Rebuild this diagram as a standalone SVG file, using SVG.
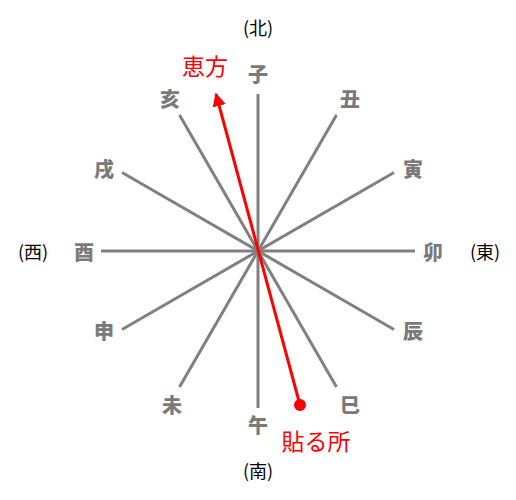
<svg xmlns="http://www.w3.org/2000/svg" width="516" height="500" viewBox="0 0 516 500">
<style>
.spoke{stroke:#808080;stroke-width:3;fill:none}
.zod{font-family:"Noto Sans CJK JP","Noto Sans CJK SC",sans-serif;font-weight:900;font-size:20px;fill:#7a7a7a;text-anchor:middle;dominant-baseline:central}
.dir{font-family:"Noto Sans CJK JP",sans-serif;font-size:18px;fill:#000;text-anchor:middle;dominant-baseline:central}
.red{font-family:"Noto Sans CJK JP",sans-serif;font-size:23px;fill:#ff0000;text-anchor:middle;dominant-baseline:central}
</style>
<defs>
<marker id="ah" viewBox="0 0 10 10" refX="9" refY="5" markerWidth="4.5" markerHeight="4.5" orient="auto" markerUnits="strokeWidth">
<path d="M0,0 L10,5 L0,10 z" fill="#ff0000"/>
</marker>
</defs>
<g id="connectors">
<line class="spoke" x1="258" y1="94" x2="258" y2="408"/>
<line class="spoke" x1="101" y1="251" x2="415" y2="251"/>
<line class="spoke" x1="336.5" y1="115" x2="179.5" y2="387"/>
<line class="spoke" x1="394" y1="172.5" x2="122" y2="329.5"/>
<line class="spoke" x1="394" y1="329.5" x2="122" y2="172.5"/>
<line class="spoke" x1="336.5" y1="387" x2="179.5" y2="115"/>
<line x1="300" y1="405" x2="216" y2="94" stroke="#ff0000" stroke-width="3" marker-end="url(#ah)"/>
<circle cx="300" cy="405" r="6" fill="#ff0000"/>
</g>
<g id="n-ne"><text class="zod" x="258" y="73">子</text></g>
<g id="n-ushi"><text class="zod" x="350" y="98">丑</text></g>
<g id="n-tora"><text class="zod" x="413" y="168">寅</text></g>
<g id="n-u"><text class="zod" x="433" y="251">卯</text></g>
<g id="n-tatsu"><text class="zod" x="413" y="330">辰</text></g>
<g id="n-mi"><text class="zod" x="350" y="404">巳</text></g>
<g id="n-uma"><text class="zod" x="258" y="424">午</text></g>
<g id="n-hitsuji"><text class="zod" x="172" y="404">未</text></g>
<g id="n-saru"><text class="zod" x="104" y="330">申</text></g>
<g id="n-tori"><text class="zod" x="84" y="251">酉</text></g>
<g id="n-inu"><text class="zod" x="104" y="168">戌</text></g>
<g id="n-i"><text class="zod" x="170" y="98">亥</text></g>
<g id="dir-n"><text class="dir" x="258" y="27">(北)</text></g>
<g id="dir-w"><text class="dir" x="33" y="251">(西)</text></g>
<g id="dir-e"><text class="dir" x="485" y="251">(東)</text></g>
<g id="dir-s"><text class="dir" x="258" y="470">(南)</text></g>
<g id="ehou"><text class="red" x="205" y="65">恵方</text></g>
<g id="haru"><text class="red" x="316" y="440">貼る所</text></g>
</svg>
